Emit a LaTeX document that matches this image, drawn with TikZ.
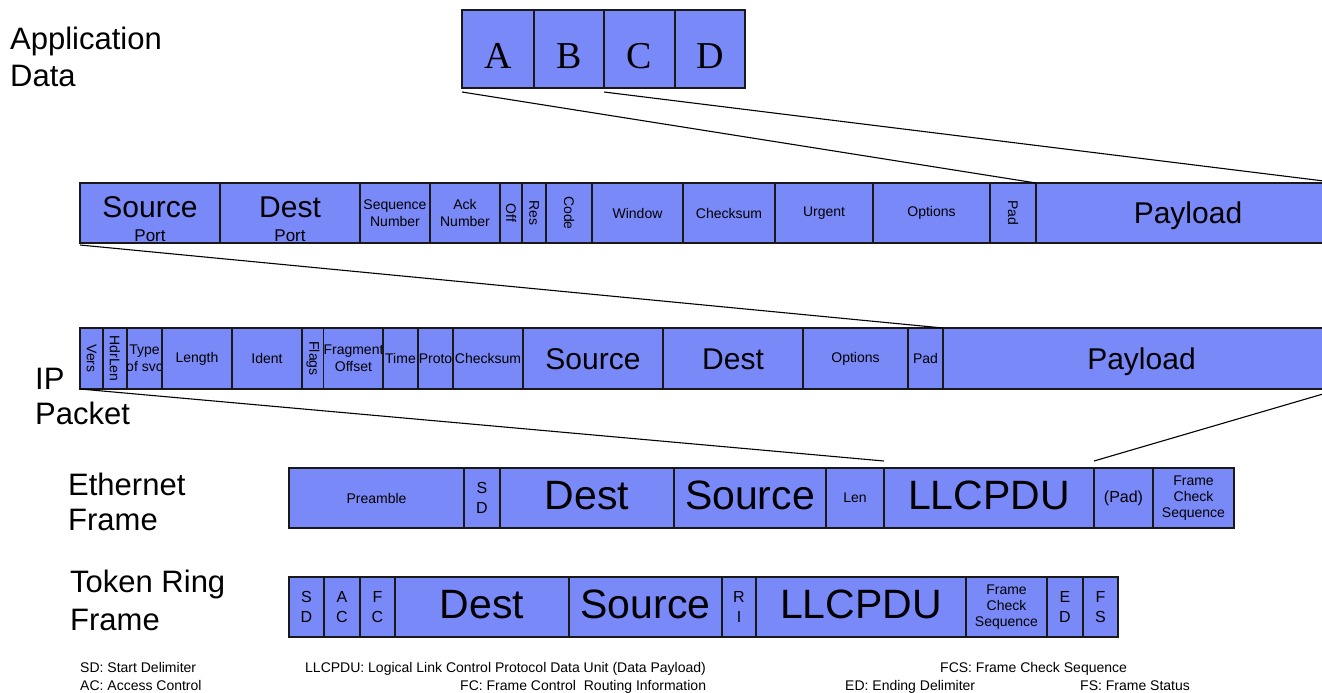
\documentclass[tikz,border=0pt]{standalone}
\usepackage{fontspec}
\setmainfont{Liberation Sans}
\newfontfamily\abcfont{Liberation Serif}
\usepackage{graphicx}
\definecolor{fldblue}{RGB}{122,137,248}
\definecolor{edge}{RGB}{25,25,25}
\newcommand\fld[7][]{\node[fld,minimum width={(#4)-(#3)},minimum height={(#6)-(#5)},#1] (#2) at ({((#3)+(#4))/2},{((#5)+(#6))/2}) {#7};}
\newcommand\rot[1]{\rotatebox{-90}{#1}}
\tikzset{
  fld/.style={draw=edge, fill=fldblue, line width=1.1pt, inner sep=0pt, outer sep=0pt,
    align=center, font=\fontsize{14}{17}\selectfont, text=black},
  bigA/.style={font=\fontsize{30}{30}\selectfont, text height=21.5pt, text depth=0pt},
  bigB/.style={font=\fontsize{41}{41}\selectfont, text height=29.5pt, text depth=6pt},
  letr/.style={font=\fontsize{16}{20}\selectfont},
  letrR/.style={font=\fontsize{16}{20}\selectfont},
  abc/.style={anchor=base, inner sep=0pt, font=\abcfont\fontsize{38}{38}\selectfont},
  lbl/.style={anchor=base west, inner sep=0pt, font=\fontsize{31}{31}\selectfont},
  lgd/.style={anchor=base west, inner sep=0pt, font=\fontsize{14}{14}\selectfont},
  conn/.style={line width=1.1pt, draw=black},
}
\begin{document}
\begin{tikzpicture}[x=1pt,y=-1pt]
\useasboundingbox (0,0) rectangle (1322,693);
\clip (0,0) rectangle (1322,693);
% left labels
\node[lbl] (lapp1) at (10,50) {Application};
\node[lbl] (lapp2) at (10,86) {Data};
\node[lbl] (lip1) at (35,389) {IP};
\node[lbl] (lip2) at (35,424) {Packet};
\node[lbl] (leth1) at (68,495) {Ethernet};
\node[lbl] (leth2) at (68,530) {Frame};
\node[lbl] (ltr1) at (70,592) {Token Ring};
\node[lbl] (ltr2) at (70,630) {Frame};
% application data
\fld{a}{462}{534}{10}{88}{}
\fld{b}{534}{604}{10}{88}{}
\fld{c}{604}{675}{10}{88}{}
\fld{d}{675}{745}{10}{88}{}
\node[abc] (aT) at (498,68) {A};
\node[abc] (bT) at (569,68) {B};
\node[abc] (cT) at (639.5,68) {C};
\node[abc] (dT) at (710,68) {D};
% TCP segment
\fld{tsp}{80}{220}{183}{243}{}
\node[bigA,anchor=base,inner sep=0pt] (tspT) at (150,217) {Source};
\node[anchor=base,inner sep=0pt,font=\fontsize{17}{17}\selectfont] (tspP) at (150,241) {Port};
\fld{tdp}{220}{360}{183}{243}{}
\node[bigA,anchor=base,inner sep=0pt] (tdpT) at (290,217) {Dest};
\node[anchor=base,inner sep=0pt,font=\fontsize{17}{17}\selectfont] (tdpP) at (290,241) {Port};
\fld{tseq}{360}{430}{183}{243}{Sequence\\Number}
\fld{tack}{430}{500}{183}{243}{Ack\\Number}
\fld{toff}{500}{522}{183}{243}{\rot{Off}}
\fld{tres}{522}{546}{183}{243}{\rot{Res}}
\fld{tcode}{546}{592}{183}{243}{\rot{Code}}
\fld{twin}{592}{683}{183}{243}{Window}
\fld{tchk}{683}{775}{183}{243}{Checksum}
\fld{turg}{775}{873}{183}{243}{Urgent}
\fld{topt}{873}{990}{183}{243}{Options}
\fld{tpad}{990}{1036}{183}{243}{\rot{Pad}}
\fld[bigA]{tpay}{1036}{1340}{183}{243}{Payload}
% IP packet
\fld{ivers}{80}{103}{328}{389}{\rot{Vers}}
\fld{ihl}{103}{127}{328}{389}{\rot{HdrLen}}
\fld{itos}{127}{162}{328}{389}{}
\begin{scope}
\clip (127,328) rectangle (162,389);
\node[align=center,inner sep=0pt,font=\fontsize{14}{17}\selectfont] (itosT) at (144.5,358.5) {Type\\of svc};
\end{scope}
\fld{ilen}{162}{232}{328}{389}{Length}
\fld{iid}{232}{302}{328}{389}{Ident}
\fld{iflg}{302}{324}{328}{389}{\rot{Flags}}
\fld{ifrag}{324}{383}{328}{389}{Fragment\\Offset}
\fld{itime}{383}{418}{328}{389}{Time}
\fld{iproto}{418}{453}{328}{389}{Proto}
\fld{ichk}{453}{523}{328}{389}{Checksum}
\fld[bigA]{isrc}{523}{663}{328}{389}{Source}
\fld[bigA]{idst}{663}{803}{328}{389}{Dest}
\fld{iopt}{803}{908}{328}{389}{Options}
\fld{ipad}{908}{943}{328}{389}{Pad}
\fld[bigA]{ipay}{943}{1340}{328}{389}{Payload}
% Ethernet frame
\fld{epre}{289}{464}{468}{528}{Preamble}
\fld[letr]{esd}{464}{500}{468}{528}{S\\D}
\fld[bigB]{edst}{500}{674}{468}{528}{Dest}
\fld[bigB]{esrc}{674}{826}{468}{528}{Source}
\fld{elen}{826}{884}{468}{528}{Len}
\fld[bigB]{ellc}{884}{1094}{468}{528}{LLCPDU}
\fld[font=\fontsize{16}{17}\selectfont]{epad}{1094}{1153}{468}{528}{(Pad)}
\fld[font=\fontsize{14}{16}\selectfont]{efcs}{1153}{1234}{468}{528}{Frame\\Check\\Sequence}
% Token ring frame
\fld[letrR]{rsd}{289}{324}{577}{637}{S\\D}
\fld[letrR]{rac}{324}{360}{577}{637}{A\\C}
\fld[letrR]{rfc}{360}{395}{577}{637}{F\\C}
\fld[bigB]{rdst}{395}{569}{577}{637}{Dest}
\fld[bigB]{rsrc}{569}{722}{577}{637}{Source}
\fld[letrR]{rri}{722}{756}{577}{637}{R\\I}
\fld[bigB]{rllc}{756}{966}{577}{637}{LLCPDU}
\fld[font=\fontsize{14}{16}\selectfont]{rfcs}{966}{1047}{577}{637}{Frame\\Check\\Sequence}
\fld[letrR]{red}{1047}{1083}{577}{637}{E\\D}
\fld[letrR]{rfs}{1083}{1118}{577}{637}{F\\S}
% connectors
\draw[conn] ([yshift=-4pt]a.south west) -- (tpay.north west);
\draw[conn] ([yshift=-4pt]c.south west) -- (tpay.north east);
\draw[conn] ([yshift=-2pt]tsp.south west) -- (ipay.north west);
\draw[conn] (ivers.south west) -- ([yshift=7pt]ellc.north west);
\draw[conn] (ipay.south east) -- ([yshift=7pt]ellc.north east);
% legend
\node[lgd] (g1) at (80,672) {SD: Start Delimiter};
\node[lgd] (g2) at (305,672) {LLCPDU: Logical Link Control Protocol Data Unit (Data Payload)};
\node[lgd] (g3) at (940,672) {FCS: Frame Check Sequence};
\node[lgd] (g4) at (80,690) {AC: Access Control};
\node[lgd] (g5) at (460,690) {FC: Frame Control\ \ Routing Information};
\node[lgd] (g6) at (845,690) {ED: Ending Delimiter};
\node[lgd] (g7) at (1080,690) {FS: Frame Status};
\end{tikzpicture}
\end{document}
